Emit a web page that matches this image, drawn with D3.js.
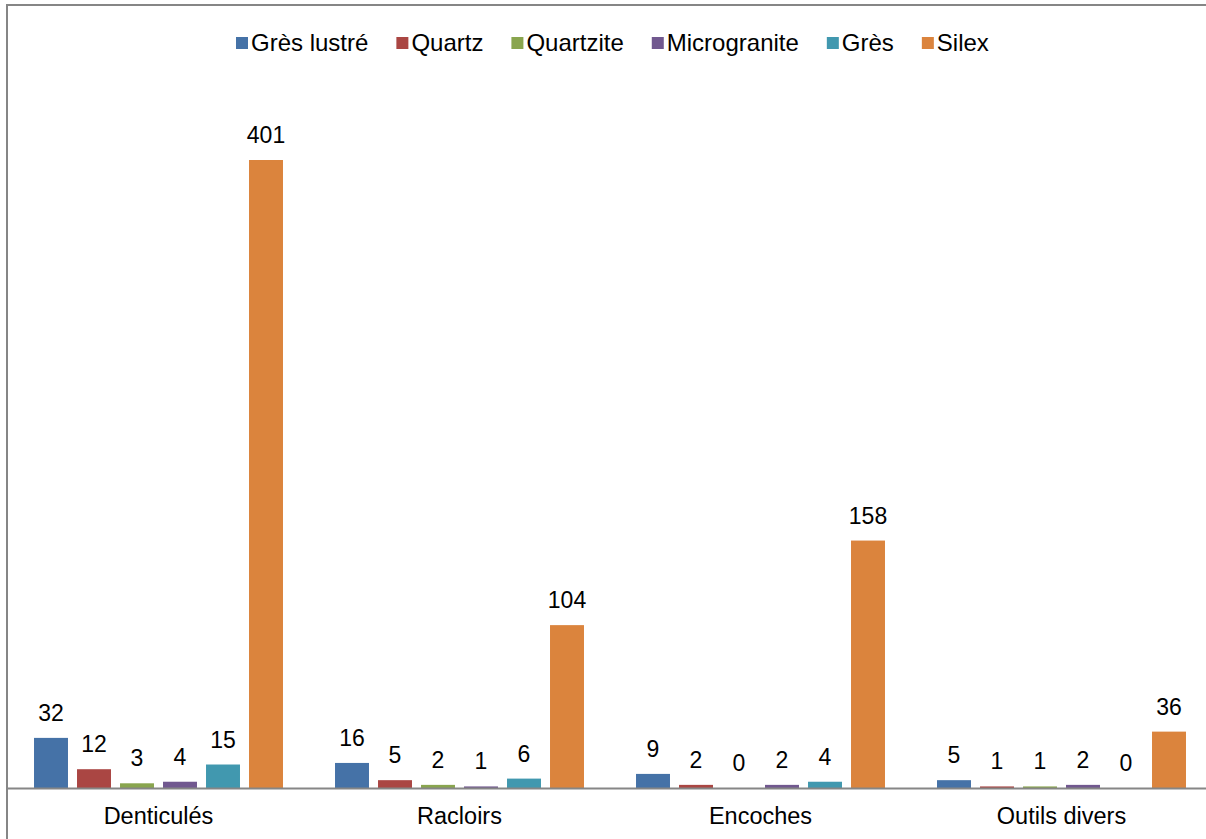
<!DOCTYPE html>
<html>
  <head>
    <style>
      body,
      html {
        margin: 0;
        padding: 0;
        background: #fff;
      }
      svg {
        display: block;
        font-family: 'Liberation Sans', Arial, sans-serif;
      }
    </style>
  </head>
  <body>
    <script src="https://cdn.jsdelivr.net/npm/d3@7"></script>
    <script>
      const categories = ['Denticulés', 'Racloirs', 'Encoches', 'Outils divers'];
      const seriesNames = ['Grès lustré', 'Quartz', 'Quartzite', 'Microgranite', 'Grès', 'Silex'];
      const colors = ['#4572A7', '#AA4643', '#89A54E', '#71588F', '#4198AF', '#DB843D'];
      // one array per series, in category order
      const gresLustre = [32, 16, 9, 5];
      const quartz = [12, 5, 2, 1];
      const quartzite = [3, 2, 0, 1];
      const microgranite = [4, 1, 2, 2];
      const gres = [15, 6, 4, 0];
      const silex = [401, 104, 158, 36];
      const seriesValues = [gresLustre, quartz, quartzite, microgranite, gres, silex];

      const width = 1206;
      const height = 839;
      const svg = d3
        .select('body')
        .append('svg')
        .attr('width', width)
        .attr('height', height);

      // chart frame
      svg
        .append('rect')
        .attr('x', 7)
        .attr('y', 5)
        .attr('width', 1240)
        .attr('height', 900)
        .attr('fill', 'none')
        .attr('stroke', '#868686')
        .attr('stroke-width', 2);

      const x = d3.scaleBand().domain(categories).range([8, 1212]);
      const xs = d3
        .scaleBand()
        .domain(seriesNames)
        .range([-129, 129])
        .paddingInner(0.21)
        .paddingOuter(0.105);
      const y = d3.scaleLinear().domain([0, 401]).range([788, 160]);

      const rows = [];
      categories.forEach((c, ci) => {
        seriesNames.forEach((s, si) => {
          rows.push({ cat: c, series: s, si: si, value: seriesValues[si][ci] });
        });
      });

      const g = svg.append('g');
      g.selectAll('rect.bar')
        .data(rows.filter((d) => d.value > 0))
        .enter()
        .append('rect')
        .attr('class', 'bar')
        .attr('x', (d) => x(d.cat) + x.bandwidth() / 2 + xs(d.series))
        .attr('y', (d) => y(d.value))
        .attr('width', xs.bandwidth())
        .attr('height', (d) => y(0) - y(d.value))
        .attr('fill', (d) => colors[d.si]);

      // value labels
      g.selectAll('text.val')
        .data(rows)
        .enter()
        .append('text')
        .attr('class', 'val')
        .attr('x', (d) => x(d.cat) + x.bandwidth() / 2 + xs(d.series) + xs.bandwidth() / 2)
        .attr('y', (d) => y(d.value) - 17)
        .attr('text-anchor', 'middle')
        .attr('font-size', 23)
        .attr('fill', '#000')
        .text((d) => d.value);

      // baseline
      svg
        .append('line')
        .attr('x1', 8)
        .attr('x2', width)
        .attr('y1', y(0) + 0.5)
        .attr('y2', y(0) + 0.5)
        .attr('stroke', '#868686')
        .attr('stroke-width', 2);

      // category labels
      svg
        .selectAll('text.cat')
        .data(categories)
        .enter()
        .append('text')
        .attr('class', 'cat')
        .attr('x', (d) => x(d) + x.bandwidth() / 2)
        .attr('y', 824)
        .attr('text-anchor', 'middle')
        .attr('font-size', 23.5)
        .attr('fill', '#000')
        .text((d) => d);

      // legend
      const legend = svg.append('g');
      let lx = 236;
      seriesNames.forEach((s, i) => {
        legend
          .append('rect')
          .attr('x', lx)
          .attr('y', 37)
          .attr('width', 12)
          .attr('height', 12)
          .attr('fill', colors[i]);
        const t = legend
          .append('text')
          .attr('x', lx + 15)
          .attr('y', 51)
          .attr('font-size', 24)
          .attr('fill', '#000')
          .text(s);
        lx += 15 + t.node().getComputedTextLength() + 28;
      });
    </script>
  </body>
</html>
